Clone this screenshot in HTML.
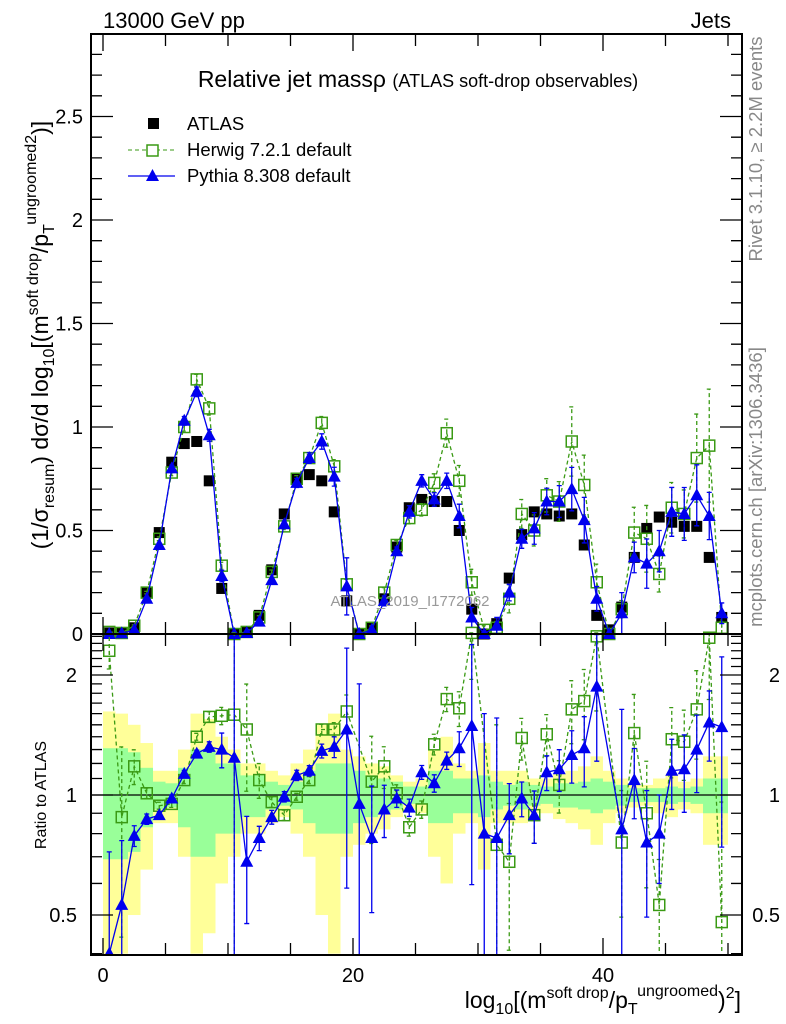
<!DOCTYPE html>
<html><head><meta charset="utf-8"><style>
html,body{margin:0;padding:0;background:#fff;}
svg{display:block;font-family:"Liberation Sans",sans-serif;}
</style></head><body>
<svg id="c" width="786" height="1024" viewBox="0 0 786 1024" xmlns="http://www.w3.org/2000/svg">
<g id="bands"></g>
<g id="marks"></g>
<g id="axes"></g>
<text x="103" y="28" font-size="22">13000 GeV pp</text>
<text x="731" y="28" font-size="22" text-anchor="end">Jets</text>
<text x="418" y="87" font-size="23" text-anchor="middle">Relative jet massρ <tspan font-size="18">(ATLAS soft-drop observables)</tspan></text>
<text x="762" y="149" font-size="18.5" fill="#888" text-anchor="middle" transform="rotate(-90 762 149)">Rivet 3.1.10, ≥ 2.2M events</text>
<text x="762" y="487" font-size="18.5" fill="#888" text-anchor="middle" transform="rotate(-90 762 487)">mcplots.cern.ch [arXiv:1306.3436]</text>
<text x="410" y="606" font-size="15" fill="#999" text-anchor="middle">ATLAS_2019_I1772062</text>
<g>
<rect x="148" y="118" width="11" height="11" fill="#000"/>
<text x="187" y="130" font-size="18.5">ATLAS</text>
<line x1="128" y1="150" x2="175" y2="150" stroke="#3a9a14" stroke-dasharray="4,3"/>
<rect x="147" y="145" width="11" height="11" fill="#fff" stroke="#3a9a14" stroke-width="1.5"/>
<text x="187" y="156" font-size="18.5">Herwig 7.2.1 default</text>
<line x1="128" y1="176" x2="175" y2="176" stroke="#0000ee" stroke-width="1.3"/>
<polygon points="152.5,169 146,181 159,181" fill="#0000ee"/>
<text x="187" y="182" font-size="18.5">Pythia 8.308 default</text>
</g>
<text transform="translate(48 335) rotate(-90)" font-size="23" text-anchor="middle">(1/σ<tspan font-size="16" dy="6">resum</tspan><tspan dy="-6">) dσ/d log</tspan><tspan font-size="16" dy="6">10</tspan><tspan dy="-6">[(m</tspan><tspan font-size="16" dy="-10">soft drop</tspan><tspan dy="10">/p</tspan><tspan font-size="16" dy="6">T</tspan><tspan font-size="16" dy="-18">ungroomed</tspan><tspan font-size="16" dy="0">2</tspan><tspan dy="12">)]</tspan></text>
<text transform="translate(46 795) rotate(-90)" font-size="16" text-anchor="middle">Ratio to ATLAS</text>
<text x="741" y="1008" font-size="23" text-anchor="end">log<tspan font-size="16" dy="6">10</tspan><tspan dy="-6">[(m</tspan><tspan font-size="16" dy="-10">soft drop</tspan><tspan dy="10">/p</tspan><tspan font-size="16" dy="6">T</tspan><tspan font-size="16" dy="-18">ungroomed</tspan><tspan dy="12">)</tspan><tspan font-size="16" dy="-10">2</tspan><tspan dy="10">]</tspan></text>
</svg>
<script>
const atlas=[0.005,0.005,0.03,0.2,0.49,0.83,0.92,0.93,0.74,0.22,0.0,0.01,0.09,0.31,0.58,0.75,0.77,0.74,0.59,0.16,0.0,0.03,0.17,0.42,0.61,0.65,0.64,0.64,0.5,0.12,0.0,0.05,0.27,0.48,0.59,0.58,0.57,0.58,0.43,0.09,0.02,0.13,0.37,0.51,0.565,0.54,0.52,0.52,0.37,0.08];
const herwig=[0.01,0.005,0.04,0.2,0.46,0.78,1.0,1.23,1.09,0.33,0.0,0.01,0.08,0.3,0.52,0.75,0.85,1.02,0.81,0.24,0.0,0.03,0.2,0.43,0.56,0.6,0.73,0.97,0.74,0.25,0.02,0.03,0.17,0.58,0.5,0.67,0.64,0.93,0.72,0.25,0.0,0.12,0.49,0.46,0.29,0.61,0.58,0.85,0.91,0.03];
const pythia=[0.0,0.003,0.02,0.17,0.43,0.8,1.03,1.17,0.96,0.28,0.0,0.005,0.06,0.26,0.53,0.73,0.85,0.93,0.76,0.23,0.0,0.02,0.16,0.4,0.59,0.74,0.65,0.74,0.57,0.08,0.0,0.04,0.2,0.46,0.51,0.64,0.64,0.7,0.55,0.17,0.0,0.1,0.37,0.34,0.4,0.59,0.58,0.67,0.57,0.1];
const herwigRatio=[2.3,0.88,1.18,1.01,0.94,0.95,1.09,1.4,1.57,1.58,1.59,1.46,1.09,0.96,0.89,0.99,1.09,1.46,1.46,1.62,null,1.08,1.18,1.01,0.83,0.92,1.34,1.74,1.65,2.6,null,0.75,0.68,1.39,0.89,1.42,1.06,1.64,1.72,2.5,null,0.76,1.43,0.90,0.53,1.38,1.36,1.64,2.48,0.48];
const pythiaRatio=[0.4,0.53,0.79,0.87,0.89,0.98,1.13,1.27,1.32,1.3,1.24,0.68,0.78,0.88,0.99,1.12,1.15,1.29,1.32,1.46,0.95,0.78,0.92,0.98,0.93,1.14,1.07,1.22,1.31,1.49,0.8,0.78,0.89,0.98,0.89,1.14,1.16,1.26,1.31,1.87,null,0.82,1.09,0.76,0.8,1.15,1.16,1.3,1.52,1.48];
const herwigErr=[0.1,0.5,0.1,0.03,0.02,0.02,0.02,0.02,0.03,0.05,1,0.3,0.1,0.03,0.03,0.02,0.02,0.03,0.04,0.1,1,0.3,0.12,0.05,0.05,0.05,0.06,0.07,0.1,0.25,1,1,0.4,0.12,0.15,0.12,0.15,0.18,0.2,0.35,1,0.35,0.25,0.35,0.3,0.2,0.2,0.25,0.3,1];
const pythiaErr=[0.8,0.45,0.06,0.03,0.02,0.02,0.02,0.02,0.03,0.1,1,0.3,0.07,0.04,0.03,0.03,0.03,0.04,0.06,0.6,1,0.35,0.15,0.05,0.05,0.04,0.05,0.05,0.1,0.6,1,1,0.2,0.1,0.15,0.1,0.12,0.15,0.2,0.35,1,1,0.2,0.35,0.25,0.2,0.22,0.22,0.2,0.5];
const greenErr=[0.31,0.31,0.28,0.17,0.08,0.07,0.17,0.3,0.3,0.2,0.2,0.12,0.12,0.08,0.06,0.08,0.15,0.2,0.2,0.2,0.15,0.12,0.1,0.08,0.05,0.05,0.15,0.15,0.1,0.1,0.12,0.08,0.06,0.08,0.06,0.05,0.07,0.07,0.08,0.1,0.08,0.06,0.04,0.04,0.04,0.05,0.04,0.05,0.1,0.1];
const yellowErr=[0.62,0.6,0.5,0.35,0.15,0.15,0.3,0.6,0.55,0.4,0.3,0.2,0.2,0.15,0.12,0.2,0.3,0.5,0.6,0.3,0.25,0.2,0.18,0.12,0.08,0.1,0.3,0.4,0.2,0.15,0.35,0.15,0.15,0.15,0.1,0.1,0.13,0.15,0.18,0.25,0.15,0.1,0.07,0.06,0.1,0.12,0.08,0.1,0.25,0.25];
const mainYTicks=["0","0.5","1","1.5","2","2.5"];
const ratioYTicks=["0.5","1","2"];
const xTicks=["0","20","40"];

const NS="http://www.w3.org/2000/svg";
const L=91,R=742,T=34,M=634,B=955;
const X=v=>103+12.5*v;
const Y=v=>634-207*v;
const RY=v=>795-398.7*Math.log10(v);
function mk(tag,attrs,parent){const e=document.createElementNS(NS,tag);for(const k in attrs)e.setAttribute(k,attrs[k]);parent.appendChild(e);return e;}
const bands=document.getElementById('bands'),marks=document.getElementById('marks'),axes=document.getElementById('axes');
const clampR=v=>Math.max(0.39,Math.min(2.55,v));
const clampM=v=>Math.max(0,Math.min(2.89,v));

atlas.forEach((a,i)=>{
  let e=yellowErr[i];
  let r=mk('rect',{x:X(i),width:12.5,y:RY(clampR(1+e)),height:RY(clampR(1-e))-RY(clampR(1+e)),fill:'#ffff99'},bands);
  
  
  e=greenErr[i];
  r=mk('rect',{x:X(i),width:12.5,y:RY(clampR(1+e)),height:RY(1-e)-RY(1+e),fill:'#99ff99'},bands);
  
  
});
let ln=mk('line',{x1:L,x2:R,y1:RY(1),y2:RY(1),stroke:'#000','stroke-width':1.2},bands);



function series(vals,errs,yf,clamp,color,dash,marker,name){
  const g=mk('g',{},marks);
  
  
  let pts=[];
  vals.forEach((v,i)=>{
    if(v===null)return;
    const cx=X(i+0.5);
    const lo=clamp(v*(1-errs[i])),hi=clamp(v*(1+errs[i]));
    const eb=mk('path',{d:`M${cx},${yf(lo)}V${yf(hi)}M${cx-2.5},${yf(lo)}h5M${cx-2.5},${yf(hi)}h5`,stroke:color,'stroke-width':1.3,'stroke-dasharray':dash,fill:'none'},g);
    
    
    pts.push([cx,yf(clamp(v))]);
  });
  const pl=mk('polyline',{points:pts.map(p=>p.join(',')).join(' '),stroke:color,'stroke-width':1.3,'stroke-dasharray':dash,fill:'none'},g);
  
  
  pts.forEach(p=>{
    let m;
    if(marker==='sq')m=mk('rect',{x:p[0]-5.5,y:p[1]-5.5,width:11,height:11,fill:'none',stroke:color,'stroke-width':1.5},g);
    else m=mk('polygon',{points:`${p[0]},${p[1]-7} ${p[0]-6.5},${p[1]+5} ${p[0]+6.5},${p[1]+5}`,fill:color},g);
    
    
  });
}
const ga=mk('g',{},marks);


atlas.forEach((v,i)=>{
  const r=mk('rect',{x:X(i+0.5)-5.5,y:Y(v)-5.5,width:11,height:11,fill:'#000'},ga);
  
  
});
series(herwig,herwigErr,Y,clampM,'#3a9a14','4,3','sq','herwig-series');
series(pythia,pythiaErr,Y,clampM,'#0000ee','none','tri','pythia-series');
series(herwigRatio,herwigErr,RY,clampR,'#3a9a14','4,3','sq','herwig-ratio-series');
series(pythiaRatio,pythiaErr,RY,clampR,'#0000ee','none','tri','pythia-ratio-series');

let cv=mk('rect',{x:0,y:955.5,width:786,height:70,fill:'#fff'},marks);
cv=mk('rect',{x:0,y:0,width:786,height:33.5,fill:'#fff'},marks);

[[T,M],[M,B]].forEach(([a,b],k)=>{
  const f=mk('rect',{x:L,y:a,width:R-L,height:b-a,fill:'none',stroke:'#000','stroke-width':2},axes);
  
  
});
let d='';
for(let v=0;v<=50;v+=5){const x=X(v);const len=v%20===0?17:12;d+=`M${x},${M}v-${len}M${x},${T}v${len}M${x},${B}v-${len}M${x},${M}v${len}`;}
for(let k=0;k<=28;k++){const v=k/10;const y=Y(v);const len=k%5===0?22:11;d+=`M${L},${y}h${len}M${R},${y}h-${len}`;}
[0.4,0.5,0.6,0.7,0.8,0.9,1,1.1,1.2,1.3,1.4,1.5,1.6,1.7,1.8,1.9,2,2.1,2.2,2.3,2.4,2.5].forEach(v=>{const y=RY(v);const len=(v===0.5||v===1||v===2)?22:11;d+=`M${L},${y}h${len}M${R},${y}h-${len}`;});
const tk=mk('path',{d:d,stroke:'#000','stroke-width':1.3,fill:'none'},axes);


mainYTicks.forEach(s=>{
  const t=mk('text',{x:83,y:Y(parseFloat(s))+7,'font-size':20,'text-anchor':'end'},axes);t.textContent=s;
  
  
});
ratioYTicks.forEach(s=>{
  const v=parseFloat(s);
  const t=mk('text',{x:77,y:RY(v)+7,'font-size':20,'text-anchor':'end'},axes);t.textContent=s;
  
  
  const t2=mk('text',{x:780,y:RY(v)+7,'font-size':20,'text-anchor':'end'},axes);t2.textContent=s;
  
  
});
xTicks.forEach(s=>{
  const t=mk('text',{x:X(parseFloat(s)),y:982,'font-size':20,'text-anchor':'middle'},axes);t.textContent=s;
  
  
});
</script>
</body></html>
